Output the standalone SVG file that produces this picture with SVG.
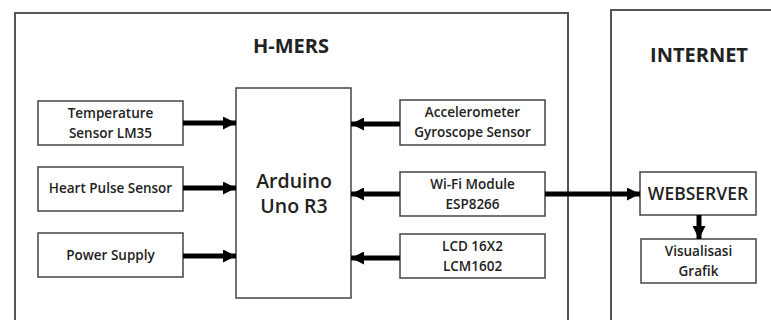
<svg xmlns="http://www.w3.org/2000/svg" width="771" height="320" viewBox="0 0 771 320">
<style>
.frame{fill:#fff;stroke:#555;stroke-width:2}
.box{fill:#fff;stroke:#444;stroke-width:1.5}
.t{font-family:"Open Sans","Liberation Sans",sans-serif;font-size:13.5px;font-weight:600;fill:#222;text-anchor:middle}
.big{font-family:"Open Sans","Liberation Sans",sans-serif;font-weight:bold;fill:#222;text-anchor:middle}
.c{stroke:#000;stroke-width:5;fill:none}
</style>
<defs>
<marker id="ah" viewBox="0 0 10 10" refX="10" refY="5" markerWidth="2.6" markerHeight="2.6" orient="auto" markerUnits="strokeWidth">
<path d="M0,0 L10,5 L0,10 z" fill="#000"/>
</marker>
</defs>
<rect width="771" height="320" fill="#fff"/>
<g id="hmers">
<rect class="frame" x="15" y="13" width="553" height="320"/>
<text class="big" x="291" y="53" style="font-size:20px">H-MERS</text>
</g>
<g id="internet">
<rect class="frame" x="611" y="10" width="180" height="320"/>
<text class="big" x="699" y="62" style="font-size:20px">INTERNET</text>
</g>
<g id="temp">
<rect class="box" x="38" y="101" width="145" height="44"/>
<text class="t" x="110.5" y="118">Temperature</text>
<text class="t" x="110.5" y="138">Sensor LM35</text>
</g>
<g id="heart">
<rect class="box" x="38" y="167" width="145" height="44"/>
<text class="t" x="110.5" y="193">Heart Pulse Sensor</text>
</g>
<g id="power">
<rect class="box" x="38" y="233" width="145" height="44"/>
<text class="t" x="110.5" y="260">Power Supply</text>
</g>
<g id="arduino">
<rect class="box" x="236" y="88" width="115" height="210"/>
<text class="big" x="294" y="188" style="font-size:19.5px;font-weight:600">Arduino</text>
<text class="big" x="294" y="213" style="font-size:19.5px;font-weight:600">Uno R3</text>
</g>
<g id="accel">
<rect class="box" x="400" y="100" width="145" height="45"/>
<text class="t" x="472.5" y="117">Accelerometer</text>
<text class="t" x="472.5" y="137">Gyroscope Sensor</text>
</g>
<g id="wifi">
<rect class="box" x="400" y="172" width="145" height="44"/>
<text class="t" x="472.5" y="189">Wi-Fi Module</text>
<text class="t" x="472.5" y="209">ESP8266</text>
</g>
<g id="lcd">
<rect class="box" x="400" y="234" width="145" height="44"/>
<text class="t" x="472.5" y="251">LCD 16X2</text>
<text class="t" x="472.5" y="271">LCM1602</text>
</g>
<g id="webserver">
<rect class="box" x="640" y="172" width="116" height="43"/>
<text class="t" x="698" y="200" style="font-size:17.5px">WEBSERVER</text>
</g>
<g id="visual">
<rect class="box" x="641" y="239" width="115" height="44"/>
<text class="t" x="698.5" y="256">Visualisasi</text>
<text class="t" x="698.5" y="276">Grafik</text>
</g>
<g id="connectors">
<line class="c" x1="183" y1="123" x2="236" y2="123" marker-end="url(#ah)"/>
<line class="c" x1="183" y1="188" x2="236" y2="188" marker-end="url(#ah)"/>
<line class="c" x1="183" y1="256" x2="236" y2="256" marker-end="url(#ah)"/>
<line class="c" x1="400" y1="124" x2="351" y2="124" marker-end="url(#ah)"/>
<line class="c" x1="400" y1="194" x2="351" y2="194" marker-end="url(#ah)"/>
<line class="c" x1="400" y1="258" x2="351" y2="258" marker-end="url(#ah)"/>
<line class="c" x1="545" y1="194" x2="640" y2="194" marker-end="url(#ah)"/>
<line class="c" x1="699" y1="215" x2="699" y2="239" marker-end="url(#ah)"/>
</g>
</svg>
